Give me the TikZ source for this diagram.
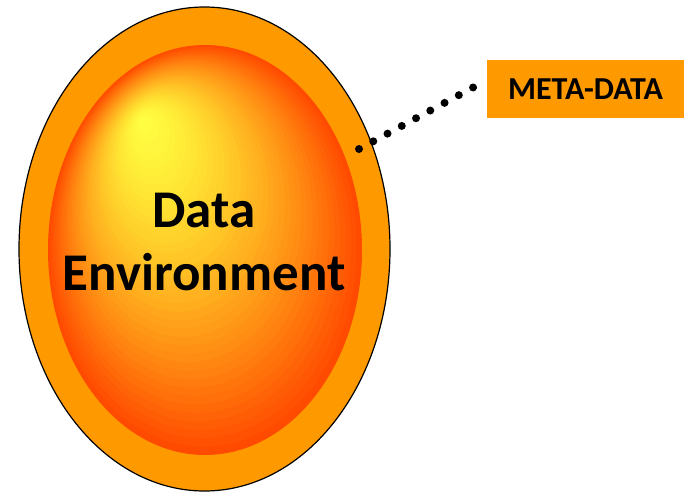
\documentclass[tikz,border=0pt]{standalone}
\usepackage{fontspec}
\newfontfamily\calib{Carlito}
\usetikzlibrary{shapes.geometric}
\definecolor{shellorange}{RGB}{255,153,0}
\tikzset{
  shell/.style={ellipse, draw=black, line width=1.2pt, fill=shellorange, inner sep=0pt},
  metabox/.style={rectangle, fill=shellorange, inner sep=0pt, font=\calib\bfseries\fontsize{32}{36}\selectfont},
  dotline/.style={line width=8pt, line cap=round, dash pattern=on 0pt off 16.2pt},
  bigtext/.style={align=center, inner sep=0pt, font=\calib\bfseries\fontsize{53}{63}\selectfont}
}
\begin{document}
\begin{tikzpicture}[x=1pt,y=-1pt]
\useasboundingbox (0,0) rectangle (684,493);
\node[shell, minimum width=371pt, minimum height=484pt] (env) at (204.5,249) {};
% inner graded ellipse: path-gradient rings shrinking toward the highlight
\foreach \i in {40,...,1}{
  \pgfmathsetmacro{\t}{\i/40}
  \pgfmathsetmacro{\cx}{142+\t*(205-142)}
  \pgfmathsetmacro{\cy}{118+\t*(250-118)}
  \pgfmathsetmacro{\rx}{\t*157}
  \pgfmathsetmacro{\ry}{\t*205}
  \pgfmathtruncatemacro{\gg}{255-180*(\t^1.4)}
  \pgfmathtruncatemacro{\bb}{70*(1-\t)}
  \definecolor{ringcol}{RGB}{255,\gg,\bb}
  \fill[ringcol] (\cx,\cy) ellipse [x radius=\rx, y radius=\ry];
}
\node[bigtext] (label) at (204,242) {Data\\Environment};
\node[metabox, minimum width=197pt, minimum height=58pt] (meta) at (585.5,89) {META-DATA};
\coordinate (touch) at (359,149);
\draw[dotline] (touch) -- ([xshift=-11pt,yshift=3pt]meta.west);
\end{tikzpicture}
\end{document}
